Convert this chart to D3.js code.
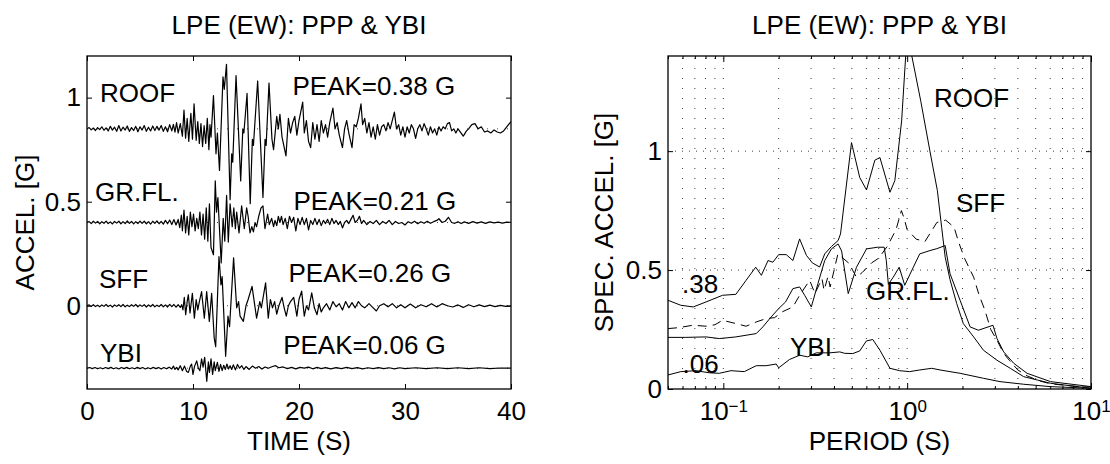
<!DOCTYPE html>
<html><head><meta charset="utf-8">
<script src="https://cdn.jsdelivr.net/npm/d3@7"></script>
<style>
body{margin:0;background:#fff}
text{font-family:"Liberation Sans",Arial,Helvetica,sans-serif;fill:#000}
</style>
</head><body>
<svg id="c" width="1110" height="464"></svg>
<script>
// ---------------- DATA ----------------
const chartTitle = "LPE (EW): PPP & YBI";
const timeTicks = [0, 10, 20, 30, 40];
const accelTicks = [0, 0.5, 1];
const saTicks = [0, 0.5, 1];
const periodMajor = [0.1, 1, 10];
const periodMinor = [0.05,0.06,0.07,0.08,0.09,0.2,0.3,0.4,0.5,0.6,0.7,0.8,0.9,2,3,4,5,6,7,8,9];
const periodTickLabels = ["\u22121", "0", "1"];
const traceNames = ["ROOF", "GR.FL.", "SFF", "YBI"];
const traceOffsets = [0.85, 0.40, 0, -0.30];
const peakLabels = ["PEAK=0.38 G", "PEAK=0.21 G", "PEAK=0.26 G", "PEAK=0.06 G"];
const spectrumLabels = [".38", ".06", "YBI", "GR.FL.", "ROOF", "SFF"];

// acceleration histories [time s, accel g] relative to each trace offset
const roofAccel = [[0,0],[0.2,0.006],[0.4,-0.005],[0.6,0.004],[0.8,-0.008],[1.0,0.006],[1.2,-0.004],[1.4,0.01],[1.6,-0.007],[1.8,0.005],[2.0,-0.01],[2.2,0.012],[2.4,-0.006],[2.6,0.008],[2.8,-0.012],[3.0,0.016],[3.2,-0.01],[3.4,0.008],[3.6,-0.006],[3.8,0.014],[4.0,-0.012],[4.2,0.006],[4.4,-0.008],[4.6,0.012],[4.8,-0.014],[5.0,0.01],[5.2,-0.006],[5.4,0.016],[5.6,-0.012],[5.8,0.008],[6.0,-0.01],[6.2,0.014],[6.4,-0.008],[6.6,0.012],[6.8,-0.006],[7.0,0.016],[7.2,-0.012],[7.4,0.01],[7.6,-0.014],[7.8,0.02],[8.0,-0.01],[8.15,0.022],[8.3,-0.016],[8.45,0.03],[8.6,-0.02],
[8.8,0.025],[9.0,-0.035],[9.15,0.09],[9.3,-0.045],[9.45,0.05],[9.6,-0.06],[9.8,0.075],[9.95,-0.05],[10.1,0.12],[10.3,-0.055],[10.45,0.035],[10.6,-0.07],[10.75,0.025],[10.9,-0.085],[11.05,0.015],[11.2,-0.07],[11.35,0.05],[11.5,-0.1],[11.6,0.02],[11.7,-0.04],[11.93,0.16],[12.17,-0.12],[12.3,-0.02],[12.5,-0.2],[12.83,0.25],[12.95,0.19],[13.16,0.31],[13.5,-0.34],[13.65,-0.12],[13.75,-0.16],[14.06,0.256],[14.5,-0.25],[14.7,0.0],[14.8,-0.02],[15.1,0.17],[15.4,-0.36],[15.6,-0.05],[15.7,-0.08],[16.1,0.23],[16.6,-0.33],[16.8,-0.05],[16.9,-0.08],[17.17,0.22],[17.45,-0.05],[17.6,-0.1],[17.9,0.06],[18.05,0.0],[18.2,0.07],[18.4,-0.04],[18.77,-0.13],[19.0,0.05],[19.2,-0.02],[19.4,0.03],[19.6,0.06],[19.8,-0.03],[20.0,0.04],[20.35,0.128],[20.5,-0.02],[20.7,0.04],[20.9,-0.06],[21.1,-0.09],[21.3,0.03],[21.5,-0.05],[21.7,0.02],[21.9,-0.06],[22.1,0.04],[22.3,-0.02],[22.5,0.02],[22.7,-0.04],[22.9,0.03],[23.2,0.10],[23.4,0.0],[23.6,0.03],[23.8,-0.03],[24.1,-0.09],[24.3,0.0],[24.5,0.04],[24.7,-0.02],[25.0,-0.09],[25.2,0.02],[25.4,0.01],[25.6,0.05],[25.85,0.12],[26.0,0.02],[26.2,0.05],[26.4,-0.02],[26.6,0.03],[26.8,-0.04],[27.0,0.01],[27.2,-0.05],[27.4,0.02],[27.6,-0.03],[27.8,0.01],[28.0,0.02],[28.2,-0.01],[28.4,0.03],[28.6,0.0],[29.0,0.08],[29.2,0.0],[29.4,0.02],[29.6,-0.03],[29.8,0.01],[30.0,-0.04],[30.2,0.01],[30.4,-0.02],[30.6,0.02],[30.8,0.0],[31.0,-0.046],[31.2,0.0],[31.4,0.02],[31.6,-0.01],[31.8,0.025],[32.0,0.0],[32.2,-0.03],[32.4,0.01],[32.6,-0.02],[32.8,0.0],[33.0,-0.03],[33.2,0.01],[33.4,-0.01],[33.6,0.01],[33.8,0.0],[34.0,0.025],[34.2,0.03],[34.4,-0.01],[34.6,0.0],[34.8,-0.02],[35.0,0.0],[35.5,-0.035],[35.8,-0.01],[36.0,0.0],[36.3,0.02],[36.6,0.025],[36.9,0.0],[37.2,0.01],[37.5,-0.015],[37.8,-0.01],[38.1,-0.02],[38.4,-0.005],[38.7,-0.015],[39.0,-0.02],[39.3,-0.01],[39.6,0.01],[40.0,0.035]];

const grflAccel = [[0,0],[0.2,0.004],[0.4,-0.005],[0.6,0.006],[0.8,-0.003],[1.0,0.005],[1.2,-0.006],[1.4,0.004],[1.6,-0.004],[1.8,0.007],[2.0,-0.005],[2.2,0.003],[2.4,-0.007],[2.6,0.005],[2.8,-0.003],[3.0,0.006],[3.2,-0.006],[3.4,0.004],[3.6,-0.005],[3.8,0.008],[4.0,-0.004],[4.2,0.005],[4.4,-0.007],[4.6,0.004],[4.8,-0.005],[5.0,0.007],[5.2,-0.004],[5.4,0.006],[5.6,-0.006],[5.8,0.004],[6.0,-0.008],[6.2,0.006],[6.4,-0.004],[6.6,0.008],[6.8,-0.006],[7.0,0.005],[7.2,-0.008],[7.4,0.01],[7.6,-0.006],[7.8,0.012],[8.0,-0.01],[8.2,0.014],[8.4,-0.012],
[8.6,0.015],[8.75,-0.025],[8.9,0.035],[9.0,-0.04],[9.15,0.06],[9.3,-0.05],[9.45,0.03],[9.6,-0.06],[9.75,0.05],[9.9,-0.02],[10.05,0.04],[10.2,-0.04],[10.35,0.02],[10.5,-0.03],[10.65,0.05],[10.8,-0.06],[10.95,0.04],[11.1,-0.08],[11.25,0.07],[11.4,-0.09],[11.55,0.09],[11.7,-0.12],[11.93,-0.155],[12.1,0.20],[12.22,0.05],[12.35,0.12],[12.66,-0.194],[12.85,0.02],[13.0,-0.09],[13.17,0.13],[13.33,-0.094],[13.5,0.09],[13.7,-0.02],[13.85,0.07],[14.0,-0.03],[14.12,0.05],[14.34,-0.05],[14.59,0.08],[14.84,-0.03],[15.06,0.07],[15.2,0.03],[15.38,-0.05],[15.55,-0.02],[15.7,-0.045],[15.85,0.0],[16.0,-0.02],[16.2,0.03],[16.42,0.07],[16.6,0.08],[16.79,-0.03],[17.04,0.04],[17.2,-0.01],[17.42,0.02],[17.6,-0.02],[17.74,0.01],[17.9,-0.015],[18.05,0.03],[18.2,0.0],[18.35,0.03],[18.5,-0.01],[18.7,0.02],[18.9,-0.03],[19.1,0.03],[19.3,0.0],[19.5,0.025],[19.7,-0.04],[19.9,0.02],[20.1,-0.01],[20.3,0.025],[20.5,-0.01],[20.7,0.02],[20.9,-0.035],[21.1,0.01],[21.3,-0.01],[21.5,0.02],[21.7,-0.01],[21.9,0.015],[22.1,-0.015],[22.3,0.01],[22.5,-0.005],[22.7,0.015],[22.9,-0.01],[23.1,0.02],[23.3,-0.005],[23.5,0.01],[23.7,-0.01],[23.9,0.005],[24.1,-0.026],[24.3,0.0],[24.5,0.01],[24.7,-0.005],[24.9,0.015],[25.1,0.035],[25.3,0.0],[25.5,0.01],[25.7,0.03],[25.9,-0.005],[26.1,0.01],[26.4,-0.01],[26.7,0.005],[27.0,-0.005],[27.3,0.01],[27.6,-0.01],[27.9,0.005],[28.2,-0.005],[28.5,0.01],[28.8,-0.01],[29.1,0.005],[29.4,-0.005],[29.7,0.0],[30.0,-0.012],[30.3,0.004],[30.6,-0.004],[30.9,0.006],[31.2,-0.006],[31.5,0.004],[31.8,-0.004],[32.1,0.006],[32.4,-0.004],[32.7,0.004],[33.0,0.01],[33.2,0.018],[33.5,0.0],[33.8,0.006],[34.1,0.025],[34.4,0.0],[34.7,-0.004],[35.0,0.004],[35.3,-0.005],[35.6,0.003],[36.0,-0.004],[36.4,0.004],[36.8,-0.003],[37.2,0.003],[37.6,-0.004],[38.0,0.003],[38.4,-0.002],[38.8,0.002],[39.2,-0.003],[39.6,0.002],[40,0.0]];

const sffAccel = [[0,0],[0.2,0.004],[0.4,-0.003],[0.6,0.005],[0.8,-0.004],[1.0,0.003],[1.2,-0.005],[1.4,0.004],[1.6,-0.003],[1.8,0.006],[2.0,-0.004],[2.2,0.003],[2.4,-0.006],[2.6,0.004],[2.8,-0.003],[3.0,0.005],[3.2,-0.004],[3.4,0.006],[3.6,-0.005],[3.8,0.003],[4.0,-0.004],[4.2,0.005],[4.4,-0.003],[4.6,0.006],[4.8,-0.005],[5.0,0.004],[5.2,-0.003],[5.4,0.005],[5.6,-0.006],[5.8,0.004],[6.0,-0.004],[6.2,0.006],[6.4,-0.005],[6.6,0.003],[6.8,-0.004],[7.0,0.006],[7.2,-0.005],[7.4,0.004],[7.6,-0.006],[7.8,0.007],[8.0,-0.004],[8.2,0.006],[8.4,-0.007],[8.6,0.005],[8.8,-0.008],
[8.93,0.005],[9.05,-0.02],[9.18,0.04],[9.31,-0.043],[9.45,0.02],[9.56,0.053],[9.72,-0.035],[9.94,0.06],[10.13,-0.06],[10.3,0.03],[10.45,-0.02],[10.6,0.02],[10.81,0.068],[11.07,-0.06],[11.29,0.068],[11.54,-0.075],[11.76,0.06],[12.0,-0.155],[12.14,-0.197],[12.45,0.236],[12.64,0.1],[12.75,0.14],[13.08,-0.243],[13.3,-0.05],[13.45,-0.1],[13.83,0.23],[14.12,-0.01],[14.3,0.02],[14.44,-0.05],[14.75,-0.075],[15.0,0.0],[15.2,0.03],[15.57,0.093],[16.0,-0.06],[16.3,0.02],[16.45,-0.01],[16.85,0.11],[17.1,-0.06],[17.3,0.03],[17.5,-0.01],[17.7,0.02],[17.9,-0.04],[18.1,0.0],[18.4,0.04],[18.6,-0.01],[18.8,-0.05],[19.0,0.0],[19.2,0.02],[19.5,0.04],[19.8,-0.05],[20.0,0.03],[20.25,0.07],[20.5,-0.05],[20.7,0.0],[20.9,-0.02],[21.2,0.062],[21.45,-0.01],[21.7,-0.043],[21.9,0.01],[22.1,-0.03],[22.3,-0.01],[22.6,0.01],[22.9,-0.02],[23.2,0.02],[23.5,-0.005],[23.8,0.01],[24.1,-0.02],[24.4,0.02],[24.7,-0.01],[25.0,0.015],[25.3,-0.01],[25.6,0.02],[25.9,0.0],[26.2,-0.01],[26.6,0.01],[27.0,-0.01],[27.3,-0.025],[27.6,0.0],[28.0,0.01],[28.4,-0.005],[28.8,0.01],[29.2,-0.01],[29.6,0.005],[30.0,-0.01],[30.5,0.008],[31.0,-0.01],[31.5,0.005],[32.0,-0.005],[32.5,0.01],[33.0,-0.006],[33.5,0.01],[34.0,0.0],[34.5,-0.006],[35.0,0.004],[35.5,-0.008],[36.0,0.005],[36.5,-0.005],[37.0,0.004],[37.5,-0.004],[38.0,0.003],[38.5,-0.004],[39.0,0.002],[39.5,-0.003],[40,0]];

const ybiAccel = [[0,0],[0.25,0.003],[0.5,-0.002],[0.75,0.003],[1.0,-0.003],[1.25,0.002],[1.5,-0.003],[1.75,0.003],[2.0,-0.002],[2.25,0.004],[2.5,-0.003],[2.75,0.002],[3.0,-0.004],[3.25,0.003],[3.5,-0.002],[3.75,0.004],[4.0,-0.003],[4.25,0.002],[4.5,-0.003],[4.75,0.004],[5.0,-0.002],[5.25,0.003],[5.5,-0.004],[5.75,0.002],[6.0,-0.003],[6.25,0.004],[6.5,-0.002],[6.75,0.003],[7.0,-0.004],[7.25,0.003],[7.5,-0.003],[7.75,0.005],[8.0,-0.004],[8.15,0.01],[8.3,-0.006],[8.45,0.004],[8.6,-0.008],[8.8,0.012],[9.0,-0.012],[9.2,0.01],[9.4,-0.016],[9.56,-0.02],[9.75,0.01],[9.87,0.02],[10.0,-0.03],[10.15,0.01],[10.35,0.035],[10.5,0.0],[10.65,-0.012],[10.81,0.045],[10.95,0.005],[11.1,0.052],[11.3,-0.063],[11.45,0.03],[11.55,-0.02],[11.7,0.045],[11.85,-0.03],[12.0,0.03],[12.1,-0.012],[12.3,0.028],[12.45,-0.015],[12.6,0.018],[12.75,-0.012],[12.9,0.014],[13.05,-0.006],[13.2,0.02],[13.35,-0.004],[13.5,0.012],[13.65,-0.006],[13.8,0.016],[14.0,-0.008],[14.2,0.018],[14.4,0.0],[14.6,0.012],[14.8,-0.006],[15.0,0.008],[15.3,-0.006],[15.6,0.01],[15.9,0.0],[16.2,0.008],[16.5,-0.004],[16.8,0.006],[17.1,0.0],[17.5,0.008],[17.8,0.012],[18.1,0.002],[18.5,0.006],[18.9,-0.002],[19.3,0.004],[19.7,-0.003],[20.1,0.004],[20.5,0.0],[20.9,0.005],[21.3,-0.003],[21.7,0.004],[22.1,-0.002],[22.5,0.003],[23.0,-0.003],[23.5,0.003],[24.0,-0.002],[24.5,0.004],[25.0,-0.002],[25.5,0.003],[26.0,-0.003],[26.5,0.002],[27.0,-0.002],[27.5,0.003],[28.0,-0.002],[28.5,0.002],[29.0,-0.003],[29.5,0.002],[30.0,-0.002],[31.0,0.002],[32.0,-0.002],[33.0,0.002],[34.0,-0.002],[35.0,0.002],[36.0,-0.002],[37.0,0.002],[38.0,-0.002],[39.0,0.001],[40,0]];

// response spectra [period s, spectral accel g]
const roofSpectrum = [[0.05,0.373],[0.0587,0.352],[0.0686,0.345],[0.0805,0.366],[0.099,0.394],[0.117,0.398],[0.133,0.457],[0.150,0.512],[0.161,0.478],[0.175,0.540],[0.186,0.533],[0.200,0.565],[0.220,0.565],[0.239,0.540],[0.260,0.631],[0.283,0.562],[0.305,0.530],[0.334,0.513],[0.356,0.568],[0.387,0.599],[0.421,0.624],[0.434,0.652],[0.498,1.036],[0.552,0.889],[0.601,0.837],[0.667,0.962],[0.711,0.973],[0.806,0.827],[0.857,0.876],[0.933,1.127],[1.0,1.5],[1.04,1.5],[1.06,1.40],[1.186,1.21],[1.33,1.0],[1.46,0.834],[1.54,0.68],[1.61,0.554],[1.71,0.46],[1.86,0.359],[2.02,0.275],[2.30,0.219],[2.60,0.163],[3.08,0.121],[3.64,0.087],[4.30,0.052],[6.03,0.024],[10,0.003]];
const grflSpectrum = [[0.05,0.217],[0.0625,0.217],[0.0805,0.219],[0.095,0.212],[0.117,0.219],[0.133,0.226],[0.151,0.233],[0.164,0.261],[0.182,0.303],[0.20,0.338],[0.218,0.366],[0.239,0.422],[0.26,0.429],[0.277,0.394],[0.301,0.345],[0.327,0.443],[0.356,0.540],[0.387,0.589],[0.421,0.610],[0.44,0.58],[0.478,0.401],[0.530,0.512],[0.601,0.589],[0.69,0.596],[0.75,0.596],[0.77,0.54],[0.79,0.44],[0.84,0.47],[0.905,0.512],[0.97,0.436],[1.08,0.512],[1.17,0.568],[1.33,0.582],[1.45,0.59],[1.61,0.603],[1.71,0.485],[1.94,0.373],[2.20,0.261],[2.44,0.247],[2.93,0.268],[3.08,0.212],[3.35,0.156],[3.80,0.108],[4.49,0.066],[6.03,0.031],[10,0.010]];
const sffSpectrum = [[0.05,0.254],[0.0575,0.258],[0.068,0.268],[0.0805,0.264],[0.09,0.27],[0.099,0.289],[0.117,0.275],[0.133,0.264],[0.151,0.282],[0.171,0.296],[0.19,0.30],[0.21,0.325],[0.239,0.345],[0.26,0.394],[0.295,0.457],[0.315,0.401],[0.344,0.464],[0.353,0.415],[0.371,0.473],[0.381,0.429],[0.42,0.568],[0.48,0.53],[0.53,0.47],[0.57,0.49],[0.64,0.53],[0.70,0.55],[0.78,0.60],[0.87,0.67],[0.93,0.75],[0.96,0.72],[1.0,0.67],[1.12,0.63],[1.25,0.62],[1.45,0.70],[1.62,0.71],[1.8,0.68],[1.9,0.62],[2.05,0.55],[2.3,0.47],[2.45,0.40],[2.65,0.33],[2.85,0.25],[3.08,0.205],[3.35,0.15],[3.6,0.12],[4.0,0.08],[4.5,0.055],[5.2,0.035],[6.0,0.022],[8.0,0.012],[10,0.008]];
const ybiSpectrum = [[0.05,0.059],[0.0587,0.073],[0.071,0.077],[0.084,0.068],[0.095,0.066],[0.110,0.077],[0.130,0.073],[0.151,0.098],[0.171,0.098],[0.194,0.105],[0.20,0.089],[0.229,0.124],[0.26,0.142],[0.288,0.135],[0.32,0.152],[0.379,0.152],[0.43,0.156],[0.457,0.150],[0.506,0.149],[0.552,0.160],[0.60,0.202],[0.65,0.208],[0.711,0.163],[0.806,0.087],[0.91,0.077],[1.03,0.073],[1.17,0.080],[1.36,0.087],[1.51,0.080],[1.94,0.066],[2.6,0.045],[3.2,0.031],[4.3,0.020],[6,0.010],[10,0.003]];

// ---------------- DRAW ----------------
const svg = d3.select("#c");
const FS = 26;
const L = {x0:87, x1:511, y0:56, y1:389};
const R = {x0:668, x1:1091, y0:56, y1:389};

const xT = d3.scaleLinear().domain([0,40]).range([L.x0,L.x1]);
const yA = d3.scaleLinear().domain([-0.4,1.2]).range([L.y1,L.y0]);
const xP = d3.scaleLog().domain([0.05,10]).range([R.x0,R.x1]);
const yS = d3.scaleLinear().domain([0,1.4]).range([R.y1,R.y0]);

const defs = svg.append("defs");
defs.append("clipPath").attr("id","clipL").append("rect")
  .attr("x",L.x0).attr("y",L.y0).attr("width",L.x1-L.x0).attr("height",L.y1-L.y0);
defs.append("clipPath").attr("id","clipR").append("rect")
  .attr("x",R.x0).attr("y",R.y0).attr("width",R.x1-R.x0).attr("height",R.y1-R.y0);

function styleAxis(g){
  g.select(".domain").remove();
  g.selectAll(".tick line").attr("stroke","#000").attr("stroke-width",1);
  g.selectAll(".tick text").attr("font-size",FS).attr("fill","#000")
    .attr("font-family",'"Liberation Sans",Arial,sans-serif');
}

// ---------- LEFT PANEL ----------
const gL = svg.append("g");
gL.append("g").attr("clip-path","url(#clipL)").selectAll("line.base").data(traceOffsets).join("line")
  .attr("x1",L.x0).attr("x2",L.x1).attr("y1",d=>yA(d)).attr("y2",d=>yA(d))
  .attr("stroke","#000").attr("stroke-width",1).attr("stroke-dasharray","1,9").attr("opacity",0.7);

const series = [roofAccel, grflAccel, sffAccel, ybiAccel];
const lineL = d3.line().x(d=>xT(d[0])).y(d=>yA(d[1]));
gL.append("g").attr("clip-path","url(#clipL)").selectAll("path.trace").data(series).join("path")
  .attr("d",(d,i)=>lineL(d.map(p=>[p[0],p[1]+traceOffsets[i]])))
  .attr("fill","none").attr("stroke","#000").attr("stroke-width",1.2).attr("stroke-linejoin","round");

gL.append("g").attr("transform",`translate(0,${L.y1})`)
  .call(d3.axisBottom(xT).tickValues(timeTicks).tickSizeInner(-5).tickSizeOuter(0).tickPadding(12.5).tickFormat(d3.format("d")))
  .call(styleAxis);
gL.append("g").attr("transform",`translate(0,${L.y0})`)
  .call(d3.axisTop(xT).tickValues(timeTicks).tickSizeInner(-5).tickSizeOuter(0).tickFormat(""))
  .call(styleAxis);
gL.append("g").attr("transform",`translate(${L.x0},0)`)
  .call(d3.axisLeft(yA).tickValues(accelTicks).tickSizeInner(-5).tickSizeOuter(0).tickPadding(6).tickFormat(d=>String(d)))
  .call(styleAxis);
gL.append("g").attr("transform",`translate(${L.x1},0)`)
  .call(d3.axisRight(yA).tickValues(accelTicks).tickSizeInner(-5).tickSizeOuter(0).tickFormat(""))
  .call(styleAxis);
gL.append("rect").attr("x",L.x0).attr("y",L.y0).attr("width",L.x1-L.x0).attr("height",L.y1-L.y0)
  .attr("fill","none").attr("stroke","#000").attr("stroke-width",1.3);

const nameBaselines = [101.7, 200.7, 288.3, 361.7];
const nameX = [100, 95, 99, 100];
gL.selectAll("text.name").data(traceNames).join("text")
  .attr("x",(d,i)=>nameX[i]).attr("y",(d,i)=>nameBaselines[i]).attr("font-size",FS).text(d=>d);
const peakX = [292.5, 293.5, 288.5, 283.2];
const peakY = [95, 210, 281.7, 354.3];
gL.selectAll("text.peak").data(peakLabels).join("text")
  .attr("x",(d,i)=>peakX[i]).attr("y",(d,i)=>peakY[i]).attr("font-size",FS).text(d=>d);

gL.append("text").attr("x",(L.x0+L.x1)/2).attr("y",34).attr("text-anchor","middle").attr("font-size",FS).text(chartTitle);
gL.append("text").attr("x",(L.x0+L.x1)/2).attr("y",450).attr("text-anchor","middle").attr("font-size",FS).text("TIME (S)");
gL.append("text").attr("transform",`translate(33.5,${(L.y0+L.y1)/2}) rotate(-90)`).attr("text-anchor","middle").attr("font-size",FS).text("ACCEL. [G]");

// ---------- RIGHT PANEL ----------
const gR = svg.append("g");
const gridX = periodMinor.concat(periodMajor).filter(d=>d>0.05 && d<10);
gR.append("g").selectAll("line.vg").data(gridX).join("line")
  .attr("x1",d=>xP(d)).attr("x2",d=>xP(d)).attr("y1",R.y1).attr("y2",R.y0)
  .attr("stroke","#000").attr("stroke-width",1).attr("stroke-dasharray","1,9").attr("opacity",0.75);
gR.append("g").selectAll("line.hg").data(saTicks.filter(d=>d>0)).join("line")
  .attr("x1",R.x0).attr("x2",R.x1).attr("y1",d=>yS(d)).attr("y2",d=>yS(d))
  .attr("stroke","#000").attr("stroke-width",1).attr("stroke-dasharray","1,6").attr("opacity",0.75);

const lineR = d3.line().x(d=>xP(d[0])).y(d=>yS(d[1]));
const spectra = [
  {d:roofSpectrum, dash:null},
  {d:grflSpectrum, dash:null},
  {d:sffSpectrum, dash:"9,6"},
  {d:ybiSpectrum, dash:null}
];
gR.append("g").attr("clip-path","url(#clipR)").selectAll("path.sp").data(spectra).join("path")
  .attr("d",s=>lineR(s.d)).attr("fill","none").attr("stroke","#000").attr("stroke-width",1)
  .attr("stroke-dasharray",s=>s.dash);

const bx = gR.append("g").attr("transform",`translate(0,${R.y1})`)
  .call(d3.axisBottom(xP).tickValues(periodMajor).tickSizeInner(-6).tickSizeOuter(0).tickPadding(12.5).tickFormat(""))
  .call(styleAxis);
bx.selectAll(".tick text").each(function(d,i){
  const t = d3.select(this);
  t.text("10");
  t.append("tspan").attr("dy","-0.46em").attr("font-size",17).text(periodTickLabels[i]);
});
gR.append("g").attr("transform",`translate(0,${R.y1})`)
  .call(d3.axisBottom(xP).tickValues(periodMinor).tickSizeInner(-3).tickSizeOuter(0).tickFormat(""))
  .call(styleAxis);
gR.append("g").attr("transform",`translate(0,${R.y0})`)
  .call(d3.axisTop(xP).tickValues(periodMajor).tickSizeInner(-6).tickSizeOuter(0).tickFormat(""))
  .call(styleAxis);
gR.append("g").attr("transform",`translate(0,${R.y0})`)
  .call(d3.axisTop(xP).tickValues(periodMinor).tickSizeInner(-3).tickSizeOuter(0).tickFormat(""))
  .call(styleAxis);
gR.append("g").attr("transform",`translate(${R.x0},0)`)
  .call(d3.axisLeft(yS).tickValues(saTicks).tickSizeInner(-5).tickSizeOuter(0).tickPadding(6).tickFormat(d=>String(d)))
  .call(styleAxis);
gR.append("g").attr("transform",`translate(${R.x1},0)`)
  .call(d3.axisRight(yS).tickValues(saTicks).tickSizeInner(-5).tickSizeOuter(0).tickFormat(""))
  .call(styleAxis);
gR.append("rect").attr("x",R.x0).attr("y",R.y0).attr("width",R.x1-R.x0).attr("height",R.y1-R.y0)
  .attr("fill","none").attr("stroke","#000").attr("stroke-width",1.3);

const spX = [682, 682.5, 790, 866, 934, 956];
const spY = [292.5, 373, 355.5, 300, 106.7, 211.7];
gR.selectAll("text.sl").data(spectrumLabels).join("text")
  .attr("x",(d,i)=>spX[i]).attr("y",(d,i)=>spY[i]).attr("font-size",FS).text(d=>d);

gR.append("text").attr("x",(R.x0+R.x1)/2).attr("y",34).attr("text-anchor","middle").attr("font-size",FS).text(chartTitle);
gR.append("text").attr("x",(R.x0+R.x1)/2).attr("y",450).attr("text-anchor","middle").attr("font-size",FS).text("PERIOD (S)");
gR.append("text").attr("transform",`translate(613,${(R.y0+R.y1)/2}) rotate(-90)`).attr("text-anchor","middle").attr("font-size",FS).text("SPEC. ACCEL. [G]");
</script>
</body></html>
